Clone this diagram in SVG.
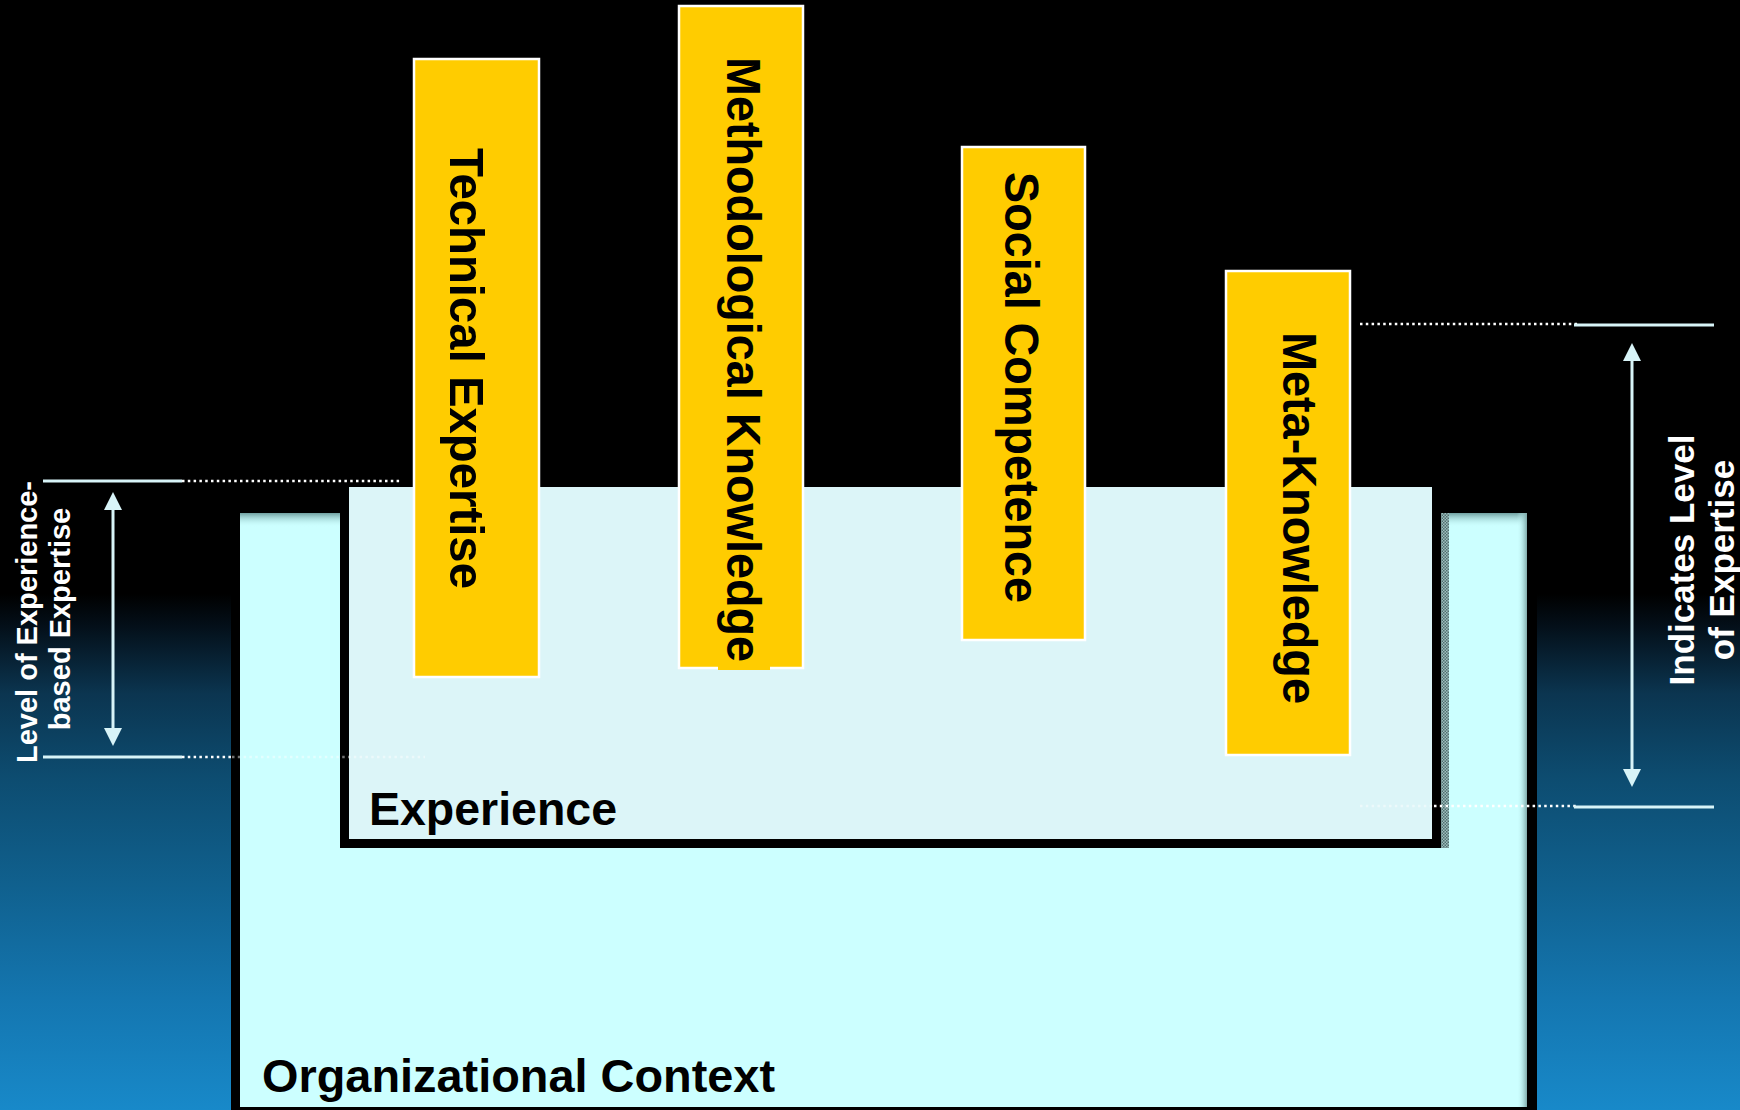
<svg xmlns="http://www.w3.org/2000/svg" width="1740" height="1110" viewBox="0 0 1740 1110">
  <defs>
    <linearGradient id="bg" gradientUnits="userSpaceOnUse" x1="0" y1="0" x2="0" y2="1110">
      <stop offset="0" stop-color="#000000"/>
      <stop offset="0.535" stop-color="#000000"/>
      <stop offset="0.565" stop-color="#04101a"/>
      <stop offset="0.625" stop-color="#0b3550"/>
      <stop offset="0.7" stop-color="#0d4c70"/>
      <stop offset="0.8" stop-color="#10618f"/>
      <stop offset="0.9" stop-color="#1476b0"/>
      <stop offset="1" stop-color="#1889c9"/>
    </linearGradient>
    <linearGradient id="topShade" x1="0" y1="0" x2="0" y2="1">
      <stop offset="0" stop-color="#6f9f9f"/>
      <stop offset="1" stop-color="#ccffff" stop-opacity="0"/>
    </linearGradient>
    <linearGradient id="rightShade" x1="0" y1="0" x2="1" y2="0">
      <stop offset="0" stop-color="#ccffff" stop-opacity="0"/>
      <stop offset="1" stop-color="#7fa9a9"/>
    </linearGradient>
    <pattern id="hatch" width="3" height="3" patternUnits="userSpaceOnUse">
      <rect width="3" height="3" fill="#9fbfbf"/>
      <rect width="1.5" height="1.5" fill="#4f6f6f"/>
      <rect x="1.5" y="1.5" width="1.5" height="1.5" fill="#4f6f6f"/>
    </pattern>
    <marker id="head" viewBox="0 0 18 18" refX="8" refY="9" markerWidth="18" markerHeight="18" markerUnits="userSpaceOnUse" orient="auto-start-reverse">
      <path d="M0,0 L18,9 L0,18 z" fill="#d8f4f8"/>
    </marker>
    <style>
      .bar { fill: #ffcc00; stroke: #ffffff; stroke-width: 2.5; }
      .barText { font-family: "Liberation Sans", Arial, sans-serif; font-weight: bold; font-size: 49px; fill: #000000; }
      .boxText { font-family: "Liberation Sans", Arial, sans-serif; font-weight: bold; font-size: 47px; fill: #000000; }
      .sideText { font-family: "Liberation Sans", Arial, sans-serif; font-weight: bold; fill: #ffffff; text-anchor: middle; }
      .solid { stroke: #d8f4f8; stroke-width: 3; fill: none; }
      .dotted { stroke: #ffffff; stroke-width: 2.5; stroke-dasharray: 2.5 3.3; fill: none; }
      .faint { opacity: 0.45; }
      .arrow { stroke: #d8f4f8; stroke-width: 3; fill: none; marker-start: url(#head); marker-end: url(#head); }
    </style>
  </defs>

  <!-- backdrop -->
  <rect x="0" y="0" width="1740" height="1110" fill="url(#bg)"/>

  <!-- outer container: organizational context -->
  <g id="organizational-context">
    <rect x="231" y="513" width="1306" height="597" fill="#000000"/>
    <rect x="240" y="513" width="1287" height="594" fill="#ccffff"/>
    <rect x="240" y="513" width="1287" height="14" fill="url(#topShade)"/>
    <rect x="1517" y="513" width="10" height="594" fill="url(#rightShade)"/>
    <text class="boxText" x="262" y="1092" textLength="513" lengthAdjust="spacingAndGlyphs">Organizational Context</text>
  </g>

  <!-- inner container: experience -->
  <g id="experience">
    <rect x="340" y="487" width="1101" height="361" fill="#000000"/>
    <rect x="349" y="487" width="1083" height="352" fill="#dcf5f8"/>
    <rect x="1441" y="513" width="8" height="335" fill="url(#hatch)"/>
    <text class="boxText" x="369" y="825" textLength="248" lengthAdjust="spacingAndGlyphs">Experience</text>
  </g>

  <!-- knowledge pillars -->
  <g id="technical-expertise">
    <rect class="bar" x="414" y="59" width="125" height="618"/>
    <text class="barText" transform="translate(450,148) rotate(90)" textLength="441" lengthAdjust="spacingAndGlyphs">Technical Expertise</text>
  </g>

  <g id="methodological-knowledge">
    <rect class="bar" x="679" y="6" width="124" height="662"/>
    <rect x="718" y="666" width="52" height="4" fill="#ffcc00"/>
    <text class="barText" transform="translate(727,57) rotate(90)" textLength="605" lengthAdjust="spacingAndGlyphs">Methodological Knowledge</text>
  </g>

  <g id="social-competence">
    <rect class="bar" x="962" y="147" width="123" height="493"/>
    <text class="barText" transform="translate(1005,172) rotate(90)" textLength="431" lengthAdjust="spacingAndGlyphs">Social Competence</text>
  </g>

  <g id="meta-knowledge">
    <rect class="bar" x="1226" y="271" width="124" height="484"/>
    <text class="barText" transform="translate(1283,332) rotate(90)" textLength="372" lengthAdjust="spacingAndGlyphs">Meta-Knowledge</text>
  </g>

  <!-- level markers and dimension arrows -->
  <g id="connectors">
    <line class="solid" x1="43" y1="481" x2="182" y2="481"/>
    <line class="dotted" x1="182" y1="481" x2="402" y2="481"/>
    <line class="solid" x1="43" y1="757" x2="182" y2="757"/>
    <line class="dotted" x1="182" y1="757" x2="232" y2="757"/>
    <line class="dotted faint" x1="232" y1="757" x2="425" y2="757"/>

    <line class="dotted" x1="1360" y1="324" x2="1578" y2="324"/>
    <line class="solid" x1="1574" y1="325" x2="1714" y2="325"/>
    <line class="dotted faint" x1="1360" y1="806" x2="1434" y2="806"/>
    <line class="dotted" x1="1434" y1="806" x2="1578" y2="806"/>
    <line class="solid" x1="1574" y1="807" x2="1714" y2="807"/>

    <line class="arrow" x1="113" y1="502" x2="113" y2="736"/>
    <line class="arrow" x1="1632" y1="353" x2="1632" y2="777"/>
  </g>

  <!-- side annotations -->
  <g id="label-experience-level">
    <text class="sideText" font-size="29" transform="translate(37,622) rotate(-90)">Level of Experience-</text>
    <text class="sideText" font-size="29" transform="translate(70,619) rotate(-90)">based Expertise</text>
  </g>
  <g id="label-expertise-level">
    <text class="sideText" font-size="35" transform="translate(1694,560) rotate(-90)">Indicates Level</text>
    <text class="sideText" font-size="35" transform="translate(1734,560) rotate(-90)">of Expertise</text>
  </g>
</svg>
